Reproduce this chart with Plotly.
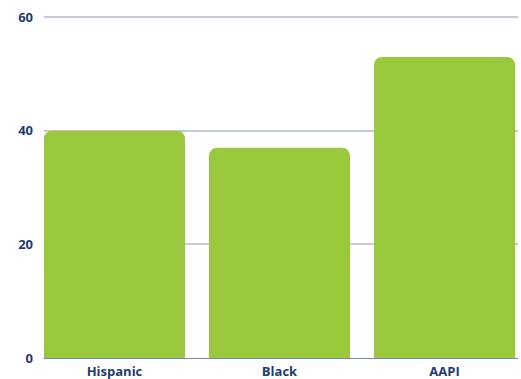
import plotly.graph_objects as go

categories = ["Hispanic", "Black", "AAPI"]
values = [40, 37, 53]
y_ticks = [0, 20, 40, 60]

navy = "#1F3B73"
fig = go.Figure(go.Bar(
    x=categories, y=values,
    marker=dict(color="#9AC83C", line=dict(width=0)),
    width=0.855,
    hoverinfo="skip",
))
fig.update_layout(
    width=521, height=379,
    margin=dict(l=44, r=3, t=16, b=21),
    paper_bgcolor="white", plot_bgcolor="white",
    barcornerradius=8,
    showlegend=False,
    font=dict(family="Open Sans", size=13, color=navy),
)
fig.update_xaxes(
    range=[-0.427, 2.445],
    showgrid=False, showline=True, linecolor="#7088B8", linewidth=1,
    ticks="", tickfont=dict(family="Open Sans", size=13, color=navy, weight="bold"),
    ticklabelstandoff=1, automargin=False,
)
fig.update_yaxes(
    range=[0, 60.2], tickvals=y_ticks,
    showgrid=True, gridcolor="#C3CADA", gridwidth=1.5,
    zeroline=False, showline=False, ticks="",
    tickfont=dict(family="Open Sans", size=13, color=navy, weight="bold"),
    ticklabelstandoff=10, automargin=False,
)
fig.write_html("out.html")
